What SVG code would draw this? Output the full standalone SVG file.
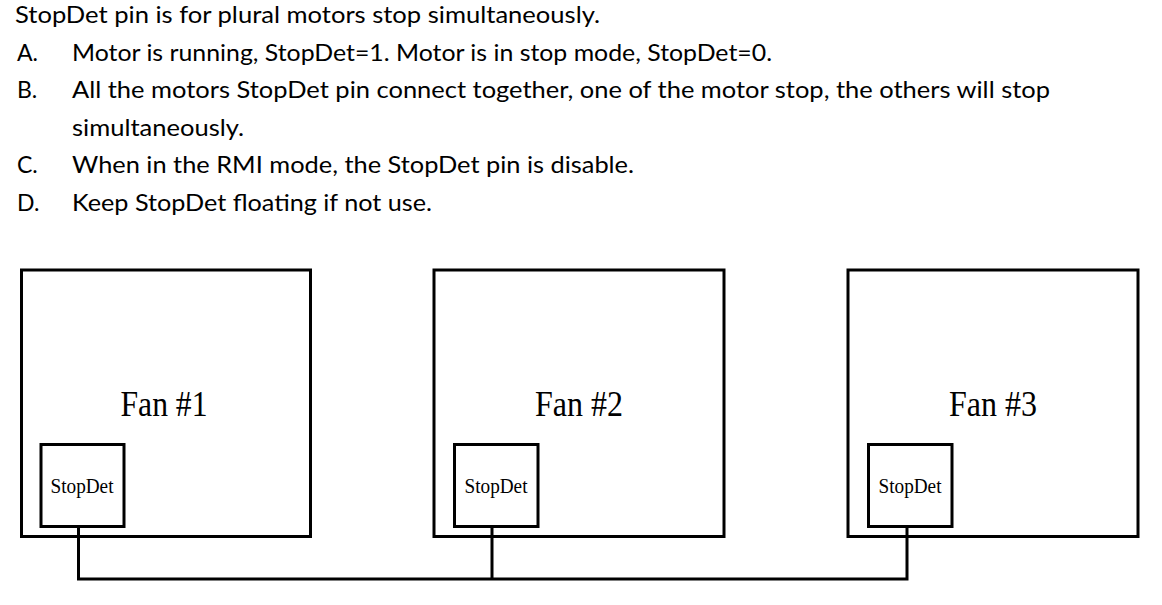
<svg xmlns="http://www.w3.org/2000/svg" width="1162" height="605" viewBox="0 0 1162 605">
<style>
.t{font-family:Lato,"Liberation Sans",sans-serif;font-size:23px;fill:#000}
.box{fill:none;stroke:#000;stroke-width:3}
.pin{fill:#fff;stroke:#000;stroke-width:3}
.fan{font-family:"Liberation Serif",serif;font-size:36px;fill:#000;text-anchor:middle}
.sd{font-family:"Liberation Serif",serif;font-size:20px;fill:#000;text-anchor:middle}
.w{fill:none;stroke:#000;stroke-width:3}
</style>
<rect width="1162" height="605" fill="#fff"/>
<g id="notes">
<text class="t" x="15" y="23" textLength="585" lengthAdjust="spacingAndGlyphs">StopDet pin is for plural motors stop simultaneously.</text>
<text class="t" x="17" y="61">A.</text>
<text class="t" x="72" y="61" textLength="700" lengthAdjust="spacingAndGlyphs">Motor is running, StopDet=1. Motor is in stop mode, StopDet=0.</text>
<text class="t" x="17" y="98">B.</text>
<text class="t" x="72" y="98" textLength="978" lengthAdjust="spacingAndGlyphs">All the motors StopDet pin connect together, one of the motor stop, the others will stop</text>
<text class="t" x="72" y="136" textLength="172" lengthAdjust="spacingAndGlyphs">simultaneously.</text>
<text class="t" x="17" y="173">C.</text>
<text class="t" x="72" y="173" textLength="562" lengthAdjust="spacingAndGlyphs">When in the RMI mode, the StopDet pin is disable.</text>
<text class="t" x="17" y="211">D.</text>
<text class="t" x="72" y="211" textLength="360" lengthAdjust="spacingAndGlyphs">Keep StopDet floating if not use.</text>
</g>
<g id="connectors">
<polyline class="w" points="78.5,526 78.5,579 907,579 907,526"/>
<line class="w" x1="492" y1="526" x2="492" y2="579"/>
</g>
<g id="fan1">
<rect class="box" x="21.5" y="270" width="289" height="266.5"/>
<text class="fan" x="164" y="416" textLength="87" lengthAdjust="spacingAndGlyphs">Fan #1</text>
<g id="pin1">
<rect class="pin" x="41" y="444.5" width="83" height="82"/>
<text class="sd" x="82" y="493" textLength="63" lengthAdjust="spacingAndGlyphs">StopDet</text>
</g>
</g>
<g id="fan2">
<rect class="box" x="434" y="270" width="290" height="266.5"/>
<text class="fan" x="579" y="416" textLength="88" lengthAdjust="spacingAndGlyphs">Fan #2</text>
<g id="pin2">
<rect class="pin" x="454.5" y="444.5" width="83.5" height="82"/>
<text class="sd" x="496" y="493" textLength="63" lengthAdjust="spacingAndGlyphs">StopDet</text>
</g>
</g>
<g id="fan3">
<rect class="box" x="848" y="270" width="290" height="266.5"/>
<text class="fan" x="993" y="416" textLength="88" lengthAdjust="spacingAndGlyphs">Fan #3</text>
<g id="pin3">
<rect class="pin" x="868.5" y="444.5" width="83.5" height="82"/>
<text class="sd" x="910" y="493" textLength="63" lengthAdjust="spacingAndGlyphs">StopDet</text>
</g>
</g>
</svg>
